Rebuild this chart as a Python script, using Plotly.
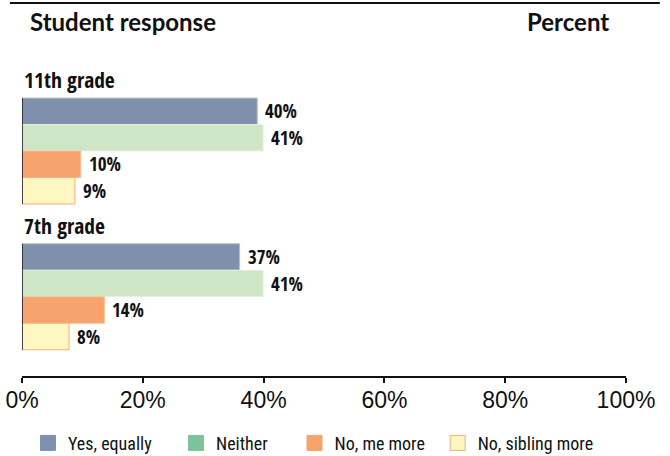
import plotly.graph_objects as go

grades = ["11th grade", "7th grade"]
responses = ["Yes, equally", "Neither", "No, me more", "No, sibling more"]
# percent per response, one value per grade (11th, 7th)
values = {
    "Yes, equally": [40, 37],
    "Neither": [41, 41],
    "No, me more": [10, 14],
    "No, sibling more": [9, 8],
}
tick_values = [0, 20, 40, 60, 80, 100]
tick_labels = ["0%", "20%", "40%", "60%", "80%", "100%"]

bar_colors = ["#7f90ad", "#cfe6c6", "#f7a36d", "#fff7c2"]
bar_lines = ["#b7c1d3", "#e8f3e2", "#f9bf98", "#f4ad7b"]
legend_colors = ["#7f90ad", "#7dc39a", "#f7a36d", "#fff7c2"]
legend_lines = ["#7f90ad", "#7dc39a", "#f7a36d", "#f4ad7b"]
legend_x = [0.0099, 0.255, 0.4512, 0.6882]

COND = "Open Sans Condensed, Roboto Condensed, DejaVu Sans Condensed, sans-serif"
TITLE = "Lato, Open Sans, sans-serif"
LEG = "Roboto Condensed, DejaVu Sans Condensed, sans-serif"
GROUP_STEP = 5.5

fig = go.Figure()
annotations = []
shapes = []

for r, resp in enumerate(responses):
    ys = [g * GROUP_STEP + r for g in range(len(grades))]
    fig.add_trace(go.Bar(
        x=values[resp], y=ys, orientation="h", width=1,
        marker=dict(color=bar_colors[r], line=dict(color=bar_lines[r], width=1)),
        showlegend=False, hoverinfo="skip", xaxis="x", yaxis="y",
    ))
    for v, yy in zip(values[resp], ys):
        annotations.append(dict(
            x=v, y=yy, xref="x", yref="y", text=f"<b>{v}%</b>",
            showarrow=False, xanchor="left", yanchor="middle", xshift=6,
            font=dict(family=COND, size=19, color="#111"),
        ))

for r, resp in enumerate(responses):
    lg = "legend" if r == 0 else f"legend{r + 1}"
    fig.add_trace(go.Scatter(
        x=[None], y=[None], mode="markers", name=resp, legend=lg,
        marker=dict(symbol="square", size=15, color=legend_colors[r],
                    line=dict(color=legend_lines[r], width=1)),
        xaxis="x2", yaxis="y",
    ))

for g, grade in enumerate(grades):
    annotations.append(dict(
        x=0, y=g * GROUP_STEP - 1.2, xref="paper", yref="y",
        text=f"<b>{grade}</b>", showarrow=False, xanchor="left", yanchor="middle",
        font=dict(family=COND, size=21.5, color="#111"),
    ))
    shapes.append(dict(
        type="line", xref="x", yref="y", x0=0, x1=0,
        y0=g * GROUP_STEP - 0.5, y1=g * GROUP_STEP + len(responses) - 0.5,
        line=dict(color="#111", width=1.5),
    ))

annotations.append(dict(
    x=0.0099, y=1.0536, xref="paper", yref="paper", text="<b>Student response</b>",
    showarrow=False, xanchor="left", yanchor="middle",
    font=dict(family=TITLE, size=24, color="#111"),
))
annotations.append(dict(
    x=0.975, y=1.0536, xref="paper", yref="paper", text="<b>Percent</b>",
    showarrow=False, xanchor="right", yanchor="middle",
    font=dict(family=TITLE, size=24, color="#111"),
))
shapes.append(dict(
    type="line", xref="paper", yref="paper", x0=-0.02, x1=1.056, y0=1.11, y1=1.11,
    line=dict(color="#111", width=2),
))

legend_common = dict(
    orientation="h", y=-0.2, xanchor="left", yanchor="middle",
    font=dict(family=LEG, size=18, color="#111"), itemclick=False,
    bgcolor="rgba(0,0,0,0)",
)
layout_legends = {}
for r in range(len(responses)):
    key = "legend" if r == 0 else f"legend{r + 1}"
    layout_legends[key] = dict(legend_common, x=legend_x[r])

fig.update_layout(
    width=670, height=456,
    margin=dict(l=22, r=44, t=40, b=80, autoexpand=False),
    paper_bgcolor="white", plot_bgcolor="white",
    barmode="overlay",
    xaxis=dict(range=[0, 102.7], visible=False, showgrid=False, zeroline=False),
    xaxis2=dict(
        overlaying="x", anchor="y", side="bottom", range=[0, 100],
        tickvals=tick_values, ticktext=tick_labels, automargin=False,
        showline=True, linecolor="#111", linewidth=2,
        ticks="outside", ticklen=5, tickwidth=2, tickcolor="#111",
        ticklabelstandoff=-3,
        tickfont=dict(family="Liberation Sans, Arial, sans-serif", size=23, color="#111"),
        showgrid=False, zeroline=False,
    ),
    yaxis=dict(range=[9.99, -2.69], visible=False, showgrid=False, zeroline=False),
    annotations=annotations,
    shapes=shapes,
    showlegend=True,
    **layout_legends,
)

fig.write_html("out.html", config={"displayModeBar": False},
               post_script="document.body.style.margin='0';")
